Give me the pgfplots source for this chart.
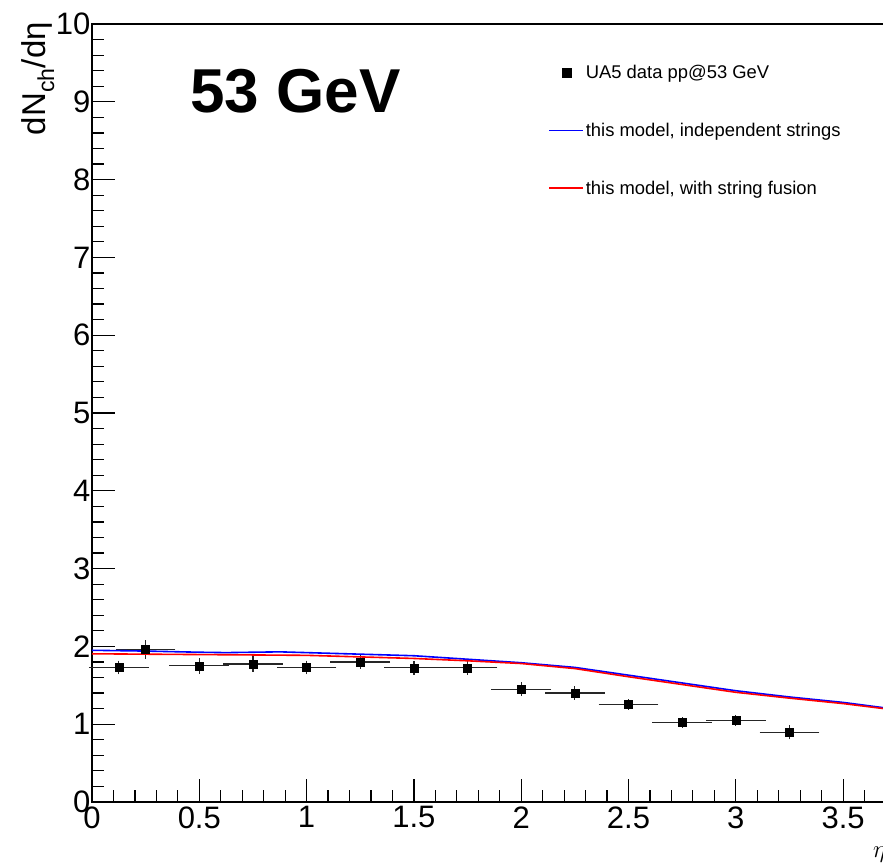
\documentclass[border=0pt]{standalone}
\usepackage{fontspec}
\setmainfont{Liberation Sans}
\usepackage{pgfplots}
\usepackage{pgfplotstable}
\pgfplotsset{compat=1.18}

% UA5 pp @ 53 GeV: eta, dN/deta, x half-width, y error
\pgfplotstableread{
eta   y      ex     ey
0.125 1.730  0.125  0.05
0.25  1.960  0.125  0.08
0.5   1.750  0.125  0.06
0.75  1.775  0.125  0.06
1.0   1.730  0.125  0.05
1.25  1.800  0.125  0.05
1.5   1.725  0.125  0.05
1.75  1.725  0.125  0.05
2.0   1.450  0.125  0.05
2.25  1.400  0.125  0.05
2.5   1.255  0.125  0.03
2.75  1.020  0.125  0.03
3.0   1.050  0.125  0.03
3.25  0.895  0.125  0.05
}\uafive

\begin{document}
\begin{tikzpicture}
\begin{axis}[name=ax, scale only axis, width=858.4pt, height=778pt,
  xmin=0, xmax=4, ymin=0, ymax=10, clip=false,
  axis line style={black, line width=1.8pt},
  xtick={0,0.5,...,4}, ytick={0,1,...,10},
  minor x tick num=4, minor y tick num=4,
  tick align=inside, xtick pos=bottom, ytick pos=left,
  major tick length=23pt, minor tick length=12pt,
  tick style={black, line width=1.2pt},
  /pgf/number format/assume math mode=true,
  tick label style={font=\fontsize{31}{35}\selectfont},
  xticklabel style={yshift=-1pt}, yticklabel style={xshift=2pt},
  legend cell align=left,
  legend style={at={(axis cs:2.125,9.50)}, anchor=north west, draw=none, fill=none,
    inner sep=0pt, row sep=39pt, font=\fontsize{18.4}{22}\selectfont},
  legend image code/.code={\draw[#1] (0pt,0pt) -- (34pt,0pt);}]

\addplot[only marks, mark=square*, mark size=4pt, black,
  legend image code/.code={\fill[black] (13.5pt,-4.5pt) rectangle (22.5pt,4.5pt);},
  error bars/.cd, x dir=both, y dir=both, x explicit, y explicit,
  error bar style={line width=1.2pt, black!85},
  error mark options={line width=1.2pt, mark size=3pt, black!85}]
  table[x=eta, y=y, x error=ex, y error=ey] {\uafive};
\addlegendentry{UA5 data pp@53 GeV}

\addplot[blue, line width=1.6pt] coordinates {(0,1.95) (0.25,1.94) (0.5,1.925) (0.625,1.92) (0.875,1.93) (1.0,1.92) (1.25,1.90) (1.5,1.88) (1.75,1.835) (2.0,1.79) (2.25,1.73) (2.5,1.63) (2.75,1.53) (3.0,1.43) (3.25,1.35) (3.5,1.28) (3.75,1.19) (4.0,1.10)};
\addlegendentry{this model, independent strings}

\addplot[red, line width=1.6pt] coordinates {(0,1.905) (0.25,1.90) (0.5,1.895) (0.75,1.89) (1.0,1.885) (1.25,1.865) (1.5,1.845) (1.75,1.815) (2.0,1.78) (2.25,1.715) (2.5,1.61) (2.75,1.51) (3.0,1.41) (3.25,1.335) (3.5,1.265) (3.75,1.18) (4.0,1.09)};
\addlegendentry{this model, with string fusion}

\node[anchor=base west, inner sep=0pt, font=\fontsize{62}{70}\selectfont\bfseries] at (axis cs:0.457,8.856) {53 GeV};
\node[anchor=base east, rotate=90, inner sep=0pt, font=\fontsize{33}{37}\selectfont] at (axis description cs:-0.0536,1.0026) {dN\textsubscript{ch}/dη};
\node[anchor=base west, inner sep=0pt, font=\fontsize{30}{34}\selectfont] at (axis cs:3.639,-0.707) {$\eta$};
\end{axis}
\pgfresetboundingbox
\path[use as bounding box, shift={(ax.south west)}] (-92pt,-60pt) rectangle (791pt,802pt);
\end{tikzpicture}
\end{document}
